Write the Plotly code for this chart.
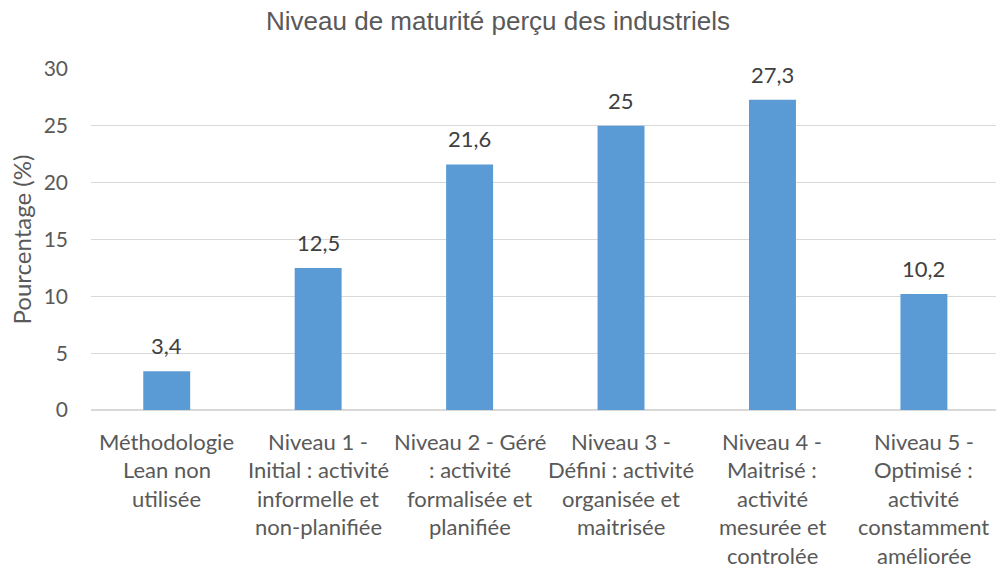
import plotly.graph_objects as go

# Maturity level categories (one list entry per display line)
category_lines = [
    ["Méthodologie", "Lean non", "utilisée"],
    ["Niveau 1 -", "Initial : activité", "informelle et", "non-planifiée"],
    ["Niveau 2 - Géré", ": activité", "formalisée et", "planifiée"],
    ["Niveau 3 -", "Défini : activité", "organisée et", "maitrisée"],
    ["Niveau 4 -", "Maitrisé :", "activité", "mesurée et", "controlée"],
    ["Niveau 5 -", "Optimisé :", "activité", "constamment", "améliorée"],
]
categories = [" ".join(lines) for lines in category_lines]
percentages = [3.4, 12.5, 21.6, 25, 27.3, 10.2]
y_ticks = [0, 5, 10, 15, 20, 25, 30]

TEXT = "#595959"
BAR = "#5B9BD5"
GRID = "#D9D9D9"
LABEL_FONT = "Lato, Carlito, Calibri, sans-serif"

fig = go.Figure(
    go.Bar(
        x=categories,
        y=percentages,
        marker=dict(color=BAR, line=dict(width=0)),
        width=0.31,
        hoverinfo="x+y",
    )
)

annotations = []
# Value labels above each bar
for cat, val in zip(categories, percentages):
    annotations.append(dict(
        x=cat, y=val, xref="x", yref="y",
        text=f"{val:g}".replace(".", ","),
        showarrow=False, yanchor="bottom", yshift=10,
        font=dict(family=LABEL_FONT, size=22, color="#404040"),
    ))

# Multi-line category labels under the axis
for cat, lines in zip(categories, category_lines):
    for i, line in enumerate(lines):
        annotations.append(dict(
            x=cat, y=0, xref="x", yref="paper",
            text=line, showarrow=False, yanchor="middle",
            yshift=-(31 + 28.5 * i),
            font=dict(family=LABEL_FONT, size=22, color=TEXT),
        ))

fig.update_layout(
    width=996, height=570,
    margin=dict(l=91, r=0, t=69, b=160),
    paper_bgcolor="white", plot_bgcolor="white",
    showlegend=False,
    bargap=0.69,
    title=dict(
        text="Niveau de maturité perçu des industriels",
        x=0.5, xanchor="center", y=0.963, yanchor="middle",
        font=dict(family="Liberation Sans, Arial, sans-serif", size=26, color=TEXT),
    ),
    xaxis=dict(
        range=[-0.5, 5.476],
        showticklabels=False, ticks="",
        showgrid=False, zeroline=False,
        showline=False,
    ),
    yaxis=dict(
        range=[0, 30], tickvals=y_ticks,
        showgrid=True, gridcolor=GRID, gridwidth=1,
        zeroline=True, zerolinecolor=GRID, zerolinewidth=1.5,
        showline=False, ticks="",
        ticklabelstandoff=22,
        tickfont=dict(family=LABEL_FONT, size=21, color=TEXT),
        title=dict(
            text="Pourcentage (%)", standoff=5,
            font=dict(family=LABEL_FONT, size=24, color=TEXT),
        ),
    ),
    annotations=annotations,
)

fig.write_html("out.html")
